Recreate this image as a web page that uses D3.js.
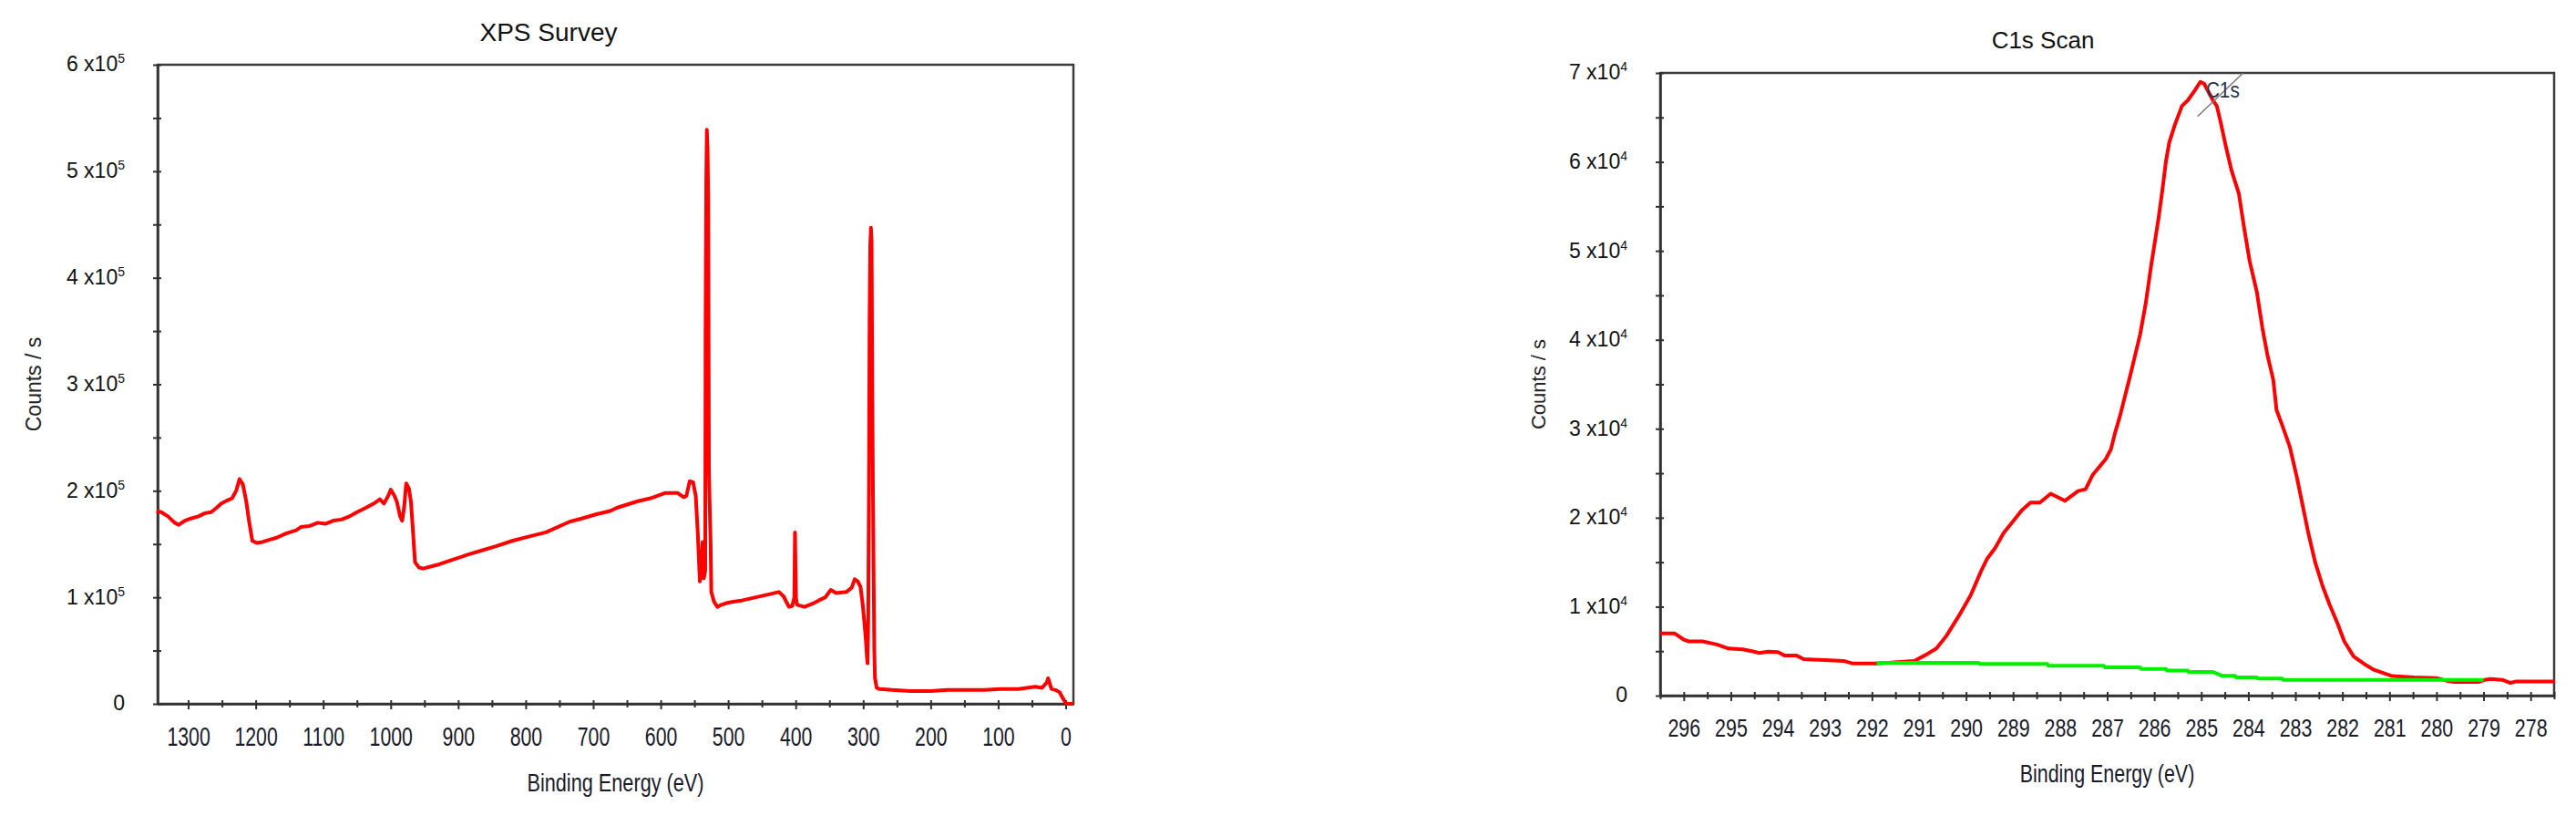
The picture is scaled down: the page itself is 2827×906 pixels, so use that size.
<!DOCTYPE html>
<html>
<head>
<meta charset="utf-8">
<script src="https://cdn.jsdelivr.net/npm/d3@7"></script>
<style>
  body { margin: 0; background: #fff; }
  svg { display: block; font-family: "Liberation Sans", Arial, sans-serif; }
</style>
</head>
<body>
<svg id="chart" width="2827" height="906"></svg>
<script>
// survey spectrum, binding energy (eV) and counts / s
const surveyEnergy = [1347, 1340, 1330, 1320, 1314, 1305, 1296, 1285, 1275, 1266, 1258, 1251, 1242, 1235, 1229, 1224,
  1219, 1214, 1210, 1205, 1198, 1190, 1180, 1169, 1155, 1140, 1133, 1120, 1108, 1097, 1085, 1073, 1061, 1050, 1037,
  1025, 1016, 1010, 1004, 1000, 995, 991, 986, 983, 980, 977, 973, 970, 967, 964, 958, 952, 940, 928, 910, 886, 865,
  844, 820, 796, 770, 735, 717, 695, 675, 665, 635, 615, 593, 575, 566, 562, 557, 552, 548, 545, 542, 540, 538, 536,
  534, 533.5, 532.5, 531.6, 530.5, 529.5, 528.5, 527.5, 526, 525, 521, 516, 510, 500, 490, 480, 459, 438, 425, 418,
  410, 405, 402, 401, 399.5, 398, 387, 375, 366, 356, 348, 340, 325, 317, 312.5, 308, 304, 301, 298.8, 296, 294.5,
  293.5, 292.5, 291.5, 290.5, 289.5, 288.5, 287.5, 286.5, 285.5, 284.5, 283.5, 282.5, 280, 276, 257, 230, 200, 175,
  149, 120, 97, 70, 45, 35, 28, 26, 24, 21, 15, 9, 4, -1, -11.5];
const surveyCounts = [181000, 180000, 176000, 170000, 168000, 172000, 174000, 176000, 179000, 180000, 184000, 188000,
  191000, 193000, 200000, 211000, 206000, 190000, 172000, 153000, 151000, 152000, 154000, 156000, 160000, 163000,
  166000, 167000, 170000, 169000, 172000, 173000, 176000, 180000, 184000, 188000, 192000, 188000, 195000, 201000,
  196000, 190000, 176000, 172000, 185000, 207000, 202000, 190000, 162000, 133000, 128000, 127000, 129000, 131000,
  135000, 140000, 144000, 148000, 153000, 157000, 161000, 171000, 174000, 178000, 181000, 184000, 190000, 193000,
  198000, 198000, 194000, 195000, 209000, 208000, 195000, 160000, 115000, 120000, 152000, 118000, 125000, 348000,
  490000, 539000, 520000, 471000, 220000, 190000, 150000, 105000, 96000, 91000, 93000, 95000, 96000, 97000, 100000,
  103000, 105000, 101000, 91000, 92000, 100000, 161000, 100000, 93000, 91000, 94000, 97000, 100000, 107000, 104000,
  105000, 109000, 117000, 115000, 110000, 95000, 81000, 60000, 45000, 38000, 80000, 195000, 360000, 430000, 447000,
  435000, 300000, 200000, 121000, 50000, 24000, 15000, 14000, 13000, 12000, 12000, 13000, 13000, 13000, 14000, 14000,
  16000, 15000, 20000, 24000, 20000, 14000, 13000, 11000, 5000, 0, 0];

// C1s high resolution scan
const c1sEnergy = [296.5, 296.2, 296.0, 295.9, 295.6, 295.3, 295.05, 294.75, 294.55, 294.4, 294.2, 294.0, 293.85,
  293.6, 293.45, 293.0, 292.6, 292.4, 291.9, 291.46, 291.1, 290.85, 290.63, 290.42, 290.16, 289.9, 289.68, 289.55,
  289.38, 289.2, 289.0, 288.82, 288.63, 288.43, 288.2, 287.9, 287.62, 287.46, 287.31, 287.03, 286.92, 286.84, 286.73,
  286.5, 286.3, 286.18, 286.07, 285.91, 285.83, 285.75, 285.68, 285.56, 285.41, 285.29, 285.13, 285.02, 284.94,
  284.86, 284.75, 284.67, 284.59, 284.48, 284.36, 284.2, 284.09, 283.97, 283.82, 283.7, 283.59, 283.47, 283.4,
  283.28, 283.12, 282.97, 282.85, 282.73, 282.58, 282.42, 282.27, 282.11, 281.96, 281.76, 281.49, 281.33, 280.94,
  280.48, 280.01, 279.8, 279.62, 279.1, 278.95, 278.85, 278.6, 278.43, 278.3, 277.48];
const c1sCounts = [7000, 7000, 6300, 6100, 6100, 5750, 5300, 5200, 5000, 4800, 4950, 4900, 4500, 4500, 4100, 4000,
  3900, 3600, 3600, 3760, 3900, 4600, 5300, 6700, 8900, 11300, 14000, 15400, 16600, 18300, 19600, 20800, 21700,
  21700, 22700, 21900, 23000, 23200, 24800, 26600, 27700, 29400, 31400, 36200, 40600, 44100, 48200, 53600, 56700,
  60100, 62200, 64200, 66300, 66900, 68100, 69000, 68800, 68000, 66900, 66300, 64500, 61800, 59100, 56400, 52600,
  48800, 45400, 41300, 38200, 35500, 32100, 30400, 28000, 24600, 21500, 18400, 15000, 12300, 10200, 8200, 6100,
  4400, 3400, 2900, 2200, 2050, 1980, 1700, 1540, 1540, 1800, 1880, 1780, 1430, 1600, 1600];

// background under the C1s peak
const c1sBackgroundEnergy = [291.9, 289.73, 289.7, 288.27, 288.25, 287.07, 287.05, 286.3, 286.28, 285.75, 285.73,
  285.29, 285.27, 284.75, 284.55, 284.28, 284.26, 283.82, 283.8, 283.28, 283.26, 279.0];
const c1sBackgroundCounts = [3680, 3680, 3550, 3550, 3350, 3350, 3180, 3180, 3000, 3000, 2830, 2830, 2660, 2660,
  2220, 2220, 2050, 2050, 1910, 1910, 1780, 1780];

// peak annotation: label anchor and marker ends (eV, counts)
const c1sPeakLabel = 'C1s';
const c1sPeakLabelAt = [284.9, 67200];
const c1sPeakMarker = [[285.08, 65100], [284.11, 70000]];

const surveyXTicks = [1300, 1200, 1100, 1000, 900, 800, 700, 600, 500, 400, 300, 200, 100, 0];
const surveyYTicks = [0, 100000, 200000, 300000, 400000, 500000, 600000];
const c1sXTicks = [296, 295, 294, 293, 292, 291, 290, 289, 288, 287, 286, 285, 284, 283, 282, 281, 280, 279, 278];
const c1sYTicks = [0, 10000, 20000, 30000, 40000, 50000, 60000, 70000];

const panels = [
  {
    title: 'XPS Survey', titleX: 602, titleY: 45, titleSize: 28,
    box: { left: 173, right: 1178, top: 71, bottom: 772 },
    xDomain: [1345.3, -11.5], yDomain: [0, 600000],
    xTicks: surveyXTicks, yTicks: surveyYTicks, exp: 5,
    xTickSize: 30, xTickStretch: 0.71, xTickOffset: 46,
    xLabelY: 868, xLabelStretch: 0.775, yLabelX: 45, yLabelSize: 23,
    series: [{ energy: surveyEnergy, counts: surveyCounts, color: '#ff0000' }]
  },
  {
    title: 'C1s Scan', titleX: 2242, titleY: 53, titleSize: 26,
    box: { left: 1822, right: 2803, top: 80, bottom: 763 },
    xDomain: [296.5, 277.5], yDomain: [0, 70000],
    xTicks: c1sXTicks, yTicks: c1sYTicks, exp: 4,
    xTickSize: 28, xTickStretch: 0.765, xTickOffset: 45,
    xLabelY: 858, xLabelStretch: 0.765, yLabelX: 1696, yLabelSize: 22,
    series: [
      { energy: c1sEnergy, counts: c1sCounts, color: '#ff0000' },
      { energy: c1sBackgroundEnergy, counts: c1sBackgroundCounts, color: '#00f000' }
    ],
    annotate: true
  }
];

const svg = d3.select('#chart');
const ink = '#303030';

function drawPanel(p) {
  const x = d3.scaleLinear().domain(p.xDomain).range([p.box.left, p.box.right]);
  const y = d3.scaleLinear().domain(p.yDomain).range([p.box.bottom, p.box.top]);
  const g = svg.append('g');
  const inside = (d, dom) => d <= Math.max(...dom) + 1e-9 && d >= Math.min(...dom) - 1e-9;

  // frame
  g.append('rect')
    .attr('x', p.box.left)
    .attr('y', p.box.top)
    .attr('width', p.box.right - p.box.left)
    .attr('height', p.box.bottom - p.box.top)
    .attr('fill', 'none')
    .attr('stroke', '#3c3c3c')
    .attr('stroke-width', 2.5);

  // x axis, majors labelled, minors halfway
  const xStep = Math.abs(p.xTicks[0] - p.xTicks[1]);
  const xMinor = p.xTicks.flatMap((d) => [d - xStep / 2, d + xStep / 2])
    .filter((d) => inside(d, p.xDomain) && !p.xTicks.includes(d));
  const xAll = Array.from(new Set(p.xTicks.concat(xMinor)));

  g.append('g')
    .attr('transform', `translate(0, ${p.box.bottom})`)
    .call(d3.axisBottom(x)
      .tickValues(xAll)
      .tickFormat((d) => (p.xTicks.includes(d) ? String(d) : ''))
      .tickSizeOuter(0)
      .tickSizeInner(6))
    .call((a) => a.select('.domain').attr('stroke', ink).attr('stroke-width', 2.5))
    .call((a) => a.selectAll('.tick line')
      .attr('stroke', ink)
      .attr('stroke-width', 2)
      .attr('y1', -4)
      .attr('y2', (d) => (p.xTicks.includes(d) ? 6 : 4)))
    .call((a) => a.selectAll('.tick text')
      .attr('fill', '#1a1a2a')
      .attr('font-size', p.xTickSize)
      .attr('y', p.xTickOffset)
      .attr('dy', 0)
      .attr('transform', `scale(${p.xTickStretch}, 1)`));

  // y axis with a x10^n labels
  const yStep = p.yTicks[1] - p.yTicks[0];
  const yMinor = p.yTicks.map((d) => d + yStep / 2).filter((d) => inside(d, p.yDomain));

  g.append('g')
    .attr('transform', `translate(${p.box.left}, 0)`)
    .call(d3.axisLeft(y)
      .tickValues(p.yTicks.concat(yMinor))
      .tickFormat('')
      .tickSizeOuter(0)
      .tickSizeInner(5))
    .call((a) => a.select('.domain').attr('stroke', ink).attr('stroke-width', 2.5))
    .call((a) => a.selectAll('.tick line')
      .attr('stroke', ink)
      .attr('stroke-width', 2)
      .attr('x1', 4))
    .call((a) => a.selectAll('.tick text')
      .attr('x', -36)
      .attr('dy', '0.3em')
      .attr('fill', '#111')
      .attr('font-size', 23)
      .each(function (d) {
        if (!p.yTicks.includes(d)) return;
        const t = d3.select(this);
        if (d === 0) {
          t.text('0');
          return;
        }
        t.text(`${d / 10 ** p.exp} x10`);
        t.append('tspan')
          .attr('font-size', 14)
          .attr('dy', -9)
          .text(p.exp);
      }));

  // curves
  const line = d3.line()
    .x((d) => x(d[0]))
    .y((d) => y(d[1]));

  p.series.forEach((s) => {
    g.append('path')
      .datum(d3.zip(s.energy, s.counts))
      .attr('fill', 'none')
      .attr('stroke', s.color)
      .attr('stroke-width', 4)
      .attr('stroke-linejoin', 'round')
      .attr('d', line);
  });

  if (p.annotate) {
    g.append('line')
      .attr('x1', x(c1sPeakMarker[0][0]))
      .attr('y1', y(c1sPeakMarker[0][1]))
      .attr('x2', x(c1sPeakMarker[1][0]))
      .attr('y2', y(c1sPeakMarker[1][1]))
      .attr('stroke', '#7a7a7a')
      .attr('stroke-width', 1.5);
    g.append('text')
      .attr('transform', `translate(${x(c1sPeakLabelAt[0])}, ${y(c1sPeakLabelAt[1])}) scale(0.9, 1)`)
      .attr('font-size', 23)
      .attr('fill', '#24344a')
      .text(c1sPeakLabel);
  }

  // titles
  g.append('text')
    .attr('x', p.titleX)
    .attr('y', p.titleY)
    .attr('text-anchor', 'middle')
    .attr('font-size', p.titleSize)
    .attr('fill', '#111')
    .text(p.title);

  g.append('text')
    .attr('transform', `translate(${(p.box.left + p.box.right) / 2}, ${p.xLabelY}) scale(${p.xLabelStretch}, 1)`)
    .attr('text-anchor', 'middle')
    .attr('font-size', 28)
    .attr('fill', '#1a1a2a')
    .text('Binding Energy (eV)');

  g.append('text')
    .attr('transform', `translate(${p.yLabelX}, ${(p.box.top + p.box.bottom) / 2}) rotate(-90)`)
    .attr('text-anchor', 'middle')
    .attr('font-size', p.yLabelSize)
    .attr('fill', '#222')
    .text('Counts / s');
}

panels.forEach(drawPanel);
</script>
</body>
</html>
